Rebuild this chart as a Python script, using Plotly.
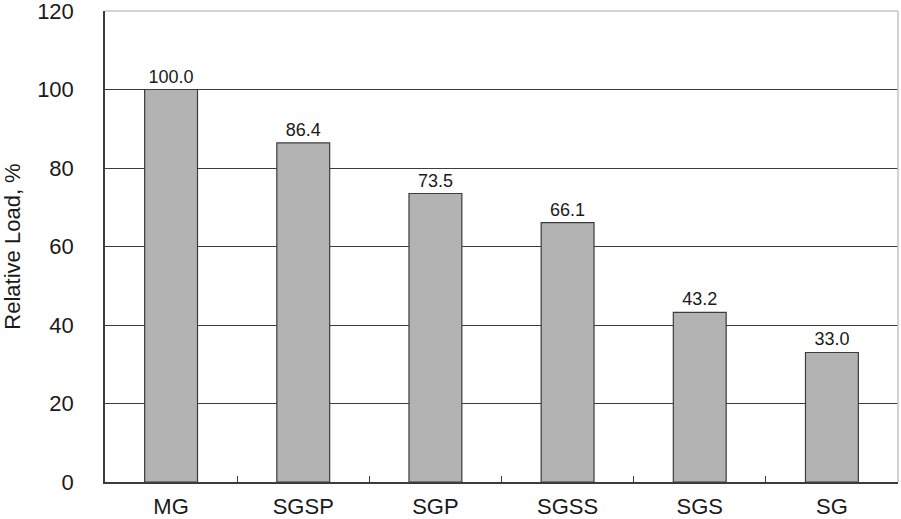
import plotly.graph_objects as go

categories = ["MG", "SGSP", "SGP", "SGSS", "SGS", "SG"]
values = [100.0, 86.4, 73.5, 66.1, 43.2, 33.0]
value_labels = ["100.0", "86.4", "73.5", "66.1", "43.2", "33.0"]
y_ticks = [0, 20, 40, 60, 80, 100, 120]

fig = go.Figure()
fig.add_trace(go.Bar(
    x=categories, y=values,
    text=value_labels, textposition="outside",
    textfont=dict(family="Liberation Sans, Arial", size=18, color="#1a1a1a"),
    marker=dict(color="#b3b3b3", line=dict(color="#3c3c3c", width=1.2)),
    width=0.40, cliponaxis=False,
))

fig.update_layout(
    width=901, height=519,
    margin=dict(l=105, r=3, t=11, b=37, autoexpand=False),
    plot_bgcolor="white", paper_bgcolor="white",
    showlegend=False,
    font=dict(family="Liberation Sans, Arial", color="#1a1a1a"),
    xaxis=dict(
        showline=True, linecolor="#3c3c3c", linewidth=1.5,
        tickson="boundaries", ticks="inside", ticklen=6, tickcolor="#3c3c3c",
        tickfont=dict(size=22), ticklabelstandoff=4,
        automargin=False, ticklabeloverflow="allow",
    ),
    yaxis=dict(
        range=[0, 120], tickvals=y_ticks,
        showline=True, linecolor="#3c3c3c", linewidth=1.5,
        showgrid=True, gridcolor="#3c3c3c", gridwidth=1.2,
        ticks="inside", ticklen=6, tickcolor="#3c3c3c",
        tickfont=dict(size=22), ticklabelstandoff=25,
        title=dict(text="Relative Load, %", font=dict(size=22), standoff=17),
        zeroline=False, automargin=False, ticklabeloverflow="allow",
    ),
)
# light border on top and right
fig.add_shape(type="line", xref="paper", yref="paper", x0=0, x1=1, y0=1, y1=1,
              line=dict(color="#c4c4c4", width=1.5))
fig.add_shape(type="line", xref="paper", yref="paper", x0=1, x1=1, y0=0, y1=1,
              line=dict(color="#c4c4c4", width=1.5))

fig.write_html("out.html", config={"displayModeBar": False},
               post_script="document.body.style.margin='0';")
